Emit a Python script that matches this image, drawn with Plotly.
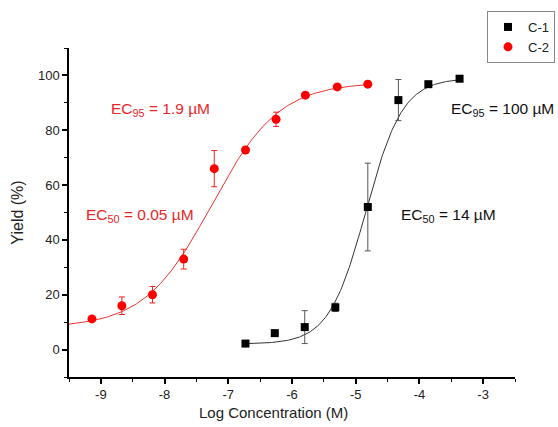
import numpy as np
import plotly.graph_objects as go

# Data
c1_x = [-6.73, -6.27, -5.80, -5.32, -4.81, -4.33, -3.86, -3.37]
c1_y = [2.2, 6.0, 8.2, 15.4, 52.0, 91.0, 96.8, 98.8]
c1_err = [0.5, 0.5, 6.0, 1.5, 16.0, 7.5, 1.0, 0.8]

c2_x = [-9.14, -8.67, -8.19, -7.70, -7.22, -6.73, -6.25, -5.79, -5.29, -4.81]
c2_y = [11.2, 16.0, 20.0, 33.0, 66.0, 72.8, 84.0, 92.8, 95.8, 96.8]
c2_err = [0.8, 3.2, 3.0, 3.6, 6.6, 0.8, 2.6, 0.8, 0.8, 0.8]

# Logistic fit parameters (A1, A2, x0, p) and fit ranges
c1_fit = (2.0, 99.0, -4.84, 1.5)
c1_fit_range = (-6.75, -3.37)
c2_fit = (8.0, 97.5, -7.26, 0.82)
c2_fit_range = (-9.5, -4.81)

x_ticks = [-9, -8, -7, -6, -5, -4, -3]
y_ticks = [0, 20, 40, 60, 80, 100]


def logistic(x, params):
    a1, a2, x0, p = params
    return a1 + (a2 - a1) / (1 + 10 ** ((x0 - x) * p))


fig = go.Figure()

for params, rng, col in [(c1_fit, c1_fit_range, "#333333"), (c2_fit, c2_fit_range, "#ee3333")]:
    xs = np.linspace(rng[0], rng[1], 200)
    fig.add_trace(go.Scatter(x=xs, y=logistic(xs, params), mode="lines",
                             line=dict(color=col, width=1), showlegend=False,
                             hoverinfo="skip"))

fig.add_trace(go.Scatter(
    x=c1_x, y=c1_y, mode="markers", name="C-1",
    marker=dict(symbol="square", size=8, color="black"),
    error_y=dict(type="data", array=c1_err, color="#555555", thickness=1, width=3),
))
fig.add_trace(go.Scatter(
    x=c2_x, y=c2_y, mode="markers", name="C-2",
    marker=dict(symbol="circle", size=9, color="#ff0000"),
    error_y=dict(type="data", array=c2_err, color="#ee2222", thickness=1, width=3),
))

font = "Liberation Sans, Arial, sans-serif"
red = "#e8262a"
annos = [
    dict(text="EC<sub>95</sub> = 1.9 µM", x=109, y=98, color=red),
    dict(text="EC<sub>50</sub> = 0.05 µM", x=84, y=204, color=red),
    dict(text="EC<sub>95</sub> = 100 µM", x=449, y=98, color="#111111"),
    dict(text="EC<sub>50</sub> = 14 µM", x=399, y=204, color="#111111"),
]
L, R, T, B = 69, 515, 48, 377
for a in annos:
    fig.add_annotation(text=a["text"], xref="paper", yref="paper",
                       x=(a["x"] - L) / (R - L), y=1 - (a["y"] - T) / (B - T),
                       xanchor="left", yanchor="top", showarrow=False,
                       font=dict(family=font, size=15.5, color=a["color"]))

fig.add_annotation(text="Log Concentration (M)", xref="paper", yref="paper",
                   x=(273 - L) / (R - L), y=1 - (412 - T) / (B - T),
                   xanchor="center", yanchor="middle", showarrow=False,
                   font=dict(family=font, size=15, color="#222222"))

fig.update_layout(
    width=558, height=427,
    margin=dict(l=L, r=558 - R, t=T, b=427 - B, autoexpand=False),
    paper_bgcolor="white", plot_bgcolor="white",
    font=dict(family=font, size=13, color="#222222"),
    legend=dict(x=(555 - L) / (R - L), y=1 + (T - 11) / (B - T),
                xanchor="right", yanchor="top",
                bordercolor="#888888", borderwidth=1, bgcolor="white",
                font=dict(size=13), itemwidth=30, tracegroupgap=0),
    showlegend=True,
)
fig.update_xaxes(range=[-9.5, -2.5], tickvals=x_ticks, ticktext=[str(v) for v in x_ticks],
                 showgrid=False, zeroline=False, showline=True, linecolor="black",
                 linewidth=1.5, ticks="outside", ticklen=5, tickwidth=1.5, tickcolor="black",
                 minor=dict(ticks="outside", ticklen=3, tickwidth=1, tickcolor="black", dtick=0.5,
                            tick0=-9, showgrid=False),
                 tickfont=dict(size=13), automargin=False)
fig.update_yaxes(range=[-10, 110], tickvals=y_ticks,
                 showgrid=False, zeroline=False, showline=True, linecolor="black",
                 linewidth=1.5, ticks="outside", ticklen=5, tickwidth=1.5, tickcolor="black",
                 minor=dict(ticks="outside", ticklen=3, tickwidth=1, tickcolor="black", dtick=10,
                            tick0=0, showgrid=False),
                 tickfont=dict(size=13), automargin=False,
                 title=dict(text="Yield (%)", font=dict(size=16), standoff=10))

fig.write_html("out.html")
